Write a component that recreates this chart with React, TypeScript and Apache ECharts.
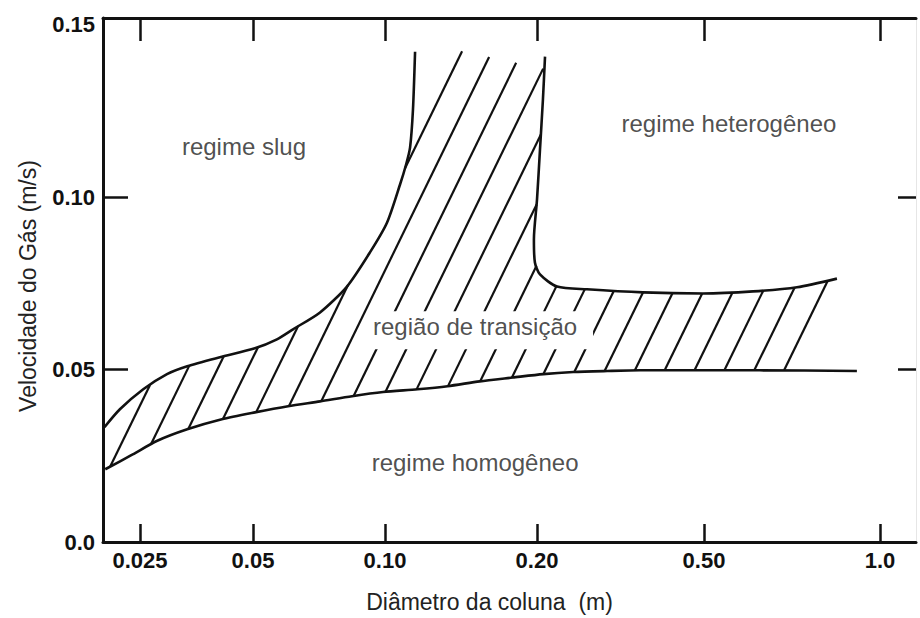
import { useEffect, useRef } from "react";
import * as echarts from "echarts";

// Diameter axis: the printed scale is stretched unevenly, so each tick diameter
// has its own place along the axis; diameters between ticks are placed by log interpolation.
const TICK_DIAMETERS = [0.025, 0.05, 0.1, 0.2, 0.5, 1.0];
const TICK_LABELS = ["0.025", "0.05", "0.10", "0.20", "0.50", "1.0"];
const TICK_POSITIONS = [0.37, 1.5, 2.82, 4.34, 6.01, 7.77];
const X_MAX = 8.13;

// Velocity axis (m/s): the frame sits slightly above the 0.15 tick
const VELOCITY_MAX = 0.152;
const VELOCITY_LABELS = [0, 0.05, 0.1, 0.15];
const VELOCITY_TICKS = [0.05, 0.1];

// Boundary homogeneous / transition  [diameter (m), gas velocity (m/s)]
const HOMOGENEOUS_BOUNDARY: [number, number][] = [
  [0.0202, 0.0211], [0.0239, 0.0254], [0.0277, 0.0293], [0.0334, 0.0327],
  [0.0413, 0.0356], [0.0505, 0.0376], [0.0601, 0.0394], [0.0711, 0.0408],
  [0.0841, 0.0423], [0.099, 0.0435], [0.116, 0.0443], [0.133, 0.0452],
  [0.154, 0.0466], [0.179, 0.0477], [0.207, 0.0487], [0.244, 0.0493],
  [0.294, 0.0496], [0.352, 0.0498], [0.489, 0.0498], [0.623, 0.0498],
  [0.913, 0.0496],
];

// Boundary slug / transition
const SLUG_BOUNDARY: [number, number][] = [
  [0.0201, 0.0333], [0.0221, 0.0385], [0.0255, 0.0443], [0.0295, 0.0487],
  [0.0334, 0.051], [0.0408, 0.0536], [0.0505, 0.0562], [0.0567, 0.0588],
  [0.0617, 0.0617], [0.0711, 0.0666], [0.0819, 0.0741], [0.0924, 0.084],
  [0.1009, 0.0926], [0.1071, 0.1037], [0.1101, 0.1095], [0.1121, 0.1144],
  [0.1136, 0.1254], [0.1147, 0.1422],
];

// Boundary heterogeneous / transition
const HETEROGENEOUS_BOUNDARY: [number, number][] = [
  [0.209, 0.1408], [0.2066, 0.1283], [0.2033, 0.1138], [0.2, 0.0993],
  [0.1972, 0.0878], [0.1981, 0.0811], [0.2033, 0.0776], [0.2233, 0.0741],
  [0.263, 0.0733], [0.3578, 0.0724], [0.4972, 0.0721], [0.6064, 0.0727],
  [0.7211, 0.0739], [0.844, 0.0764],
];

// Open edges of the hatched transition band: the hatching leaves the slug line
// at this point and stops along a line just under the top frame
const HATCH_SLUG_EXIT = 15;
const HATCH_TOP: [number, number][] = [[0.1376, 0.1428], [0.209, 0.1372]];
const HATCH_RIGHT_FOOT: [number, number] = [0.7015, 0.0498];

// Region names, anchored at [diameter, velocity]
const REGION_LABELS: { name: string; at: [number, number] }[] = [
  { name: "regime slug", at: [0.0473, 0.1146] },
  { name: "regime heterogêneo", at: [0.5516, 0.1213] },
  { name: "região de transição", at: [0.1508, 0.0626] },
  { name: "regime homogêneo", at: [0.1508, 0.0232] },
];
// The transition name sits on a white card that interrupts the hatching
const CARD_LABEL = "região de transição";

const FONT = "'Liberation Sans', Arial, Helvetica, sans-serif";
const INK = "#111";
const TEXT = "#222";

const LOG_TICKS = TICK_DIAMETERS.map((d) => Math.log10(d));

function toAxis(d: number): number {
  const lg = Math.log10(d);
  let i = 0;
  while (i < LOG_TICKS.length - 2 && lg > LOG_TICKS[i + 1]) i++;
  const t = (lg - LOG_TICKS[i]) / (LOG_TICKS[i + 1] - LOG_TICKS[i]);
  return TICK_POSITIONS[i] + t * (TICK_POSITIONS[i + 1] - TICK_POSITIONS[i]);
}

const toPoints = (pts: [number, number][]) => pts.map(([d, v]) => [toAxis(d), v]);

// Outline of the hatched band, walked once around
const HATCH_POLYGON: [number, number][] = [
  ...SLUG_BOUNDARY.slice(0, HATCH_SLUG_EXIT + 1),
  ...HATCH_TOP,
  ...HETEROGENEOUS_BOUNDARY.slice(1),
  HATCH_RIGHT_FOOT,
  ...HOMOGENEOUS_BOUNDARY.filter(([d]) => d < HATCH_RIGHT_FOOT[0]).reverse(),
];

function tickLabel(v: number): string {
  let best = 0;
  TICK_POSITIONS.forEach((p, i) => {
    if (Math.abs(p - v) < Math.abs(TICK_POSITIONS[best] - v)) best = i;
  });
  return TICK_LABELS[best];
}

function renderHatch(_params: any, api: any) {
  const pts: number[][] = HATCH_POLYGON.map(([d, v]) => api.coord([toAxis(d), v]));
  const slope = 2.05; // lines rise to the right: y + slope * x = c
  const gap = 61.2;
  const phase = 7.5;
  const key = (p: number[]) => p[1] + slope * p[0];
  const cs = pts.map(key);
  const cMin = Math.min(...cs);
  const cMax = Math.max(...cs);
  // first stroke starts just right of where the lower boundary meets the axis
  const [d0, v0] = HOMOGENEOUS_BOUNDARY[0];
  const anchor = key(api.coord([toAxis(d0), v0])) + phase;
  const start = anchor - gap * Math.floor((anchor - cMin) / gap);
  const children: any[] = [];
  for (let c = start; c < cMax; c += gap) {
    const xs: number[] = [];
    for (let i = 0; i < pts.length; i++) {
      const a = pts[i];
      const b = pts[(i + 1) % pts.length];
      const fa = key(a) - c;
      const fb = key(b) - c;
      if (fa < 0 !== fb < 0) {
        const t = fa / (fa - fb);
        xs.push(a[0] + t * (b[0] - a[0]));
      }
    }
    xs.sort((p, q) => p - q);
    for (let j = 0; j + 1 < xs.length; j += 2) {
      children.push({
        type: "line",
        shape: { x1: xs[j], y1: c - slope * xs[j], x2: xs[j + 1], y2: c - slope * xs[j + 1] },
        style: { stroke: INK, lineWidth: 2.2 },
      });
    }
  }
  return { type: "group", children };
}

function renderCard(_params: any, api: any) {
  const label = REGION_LABELS.find((r) => r.name === CARD_LABEL)!;
  const [cx, cy] = api.coord([toAxis(label.at[0]), label.at[1]]);
  return {
    type: "rect",
    shape: { x: cx - 107, y: cy - 15, width: 225, height: 38 },
    style: { fill: "#fff" },
  };
}

const boundaryLine = (data: [number, number][]) => ({
  type: "line" as const,
  data: toPoints(data),
  showSymbol: false,
  smooth: 0.25,
  silent: true,
  z: 3,
  lineStyle: { color: INK, width: 2.6 },
});

const labelText = { fontFamily: FONT, fontSize: 24, color: TEXT };

export default function App() {
  const ref = useRef<HTMLDivElement>(null);

  useEffect(() => {
    if (!ref.current) return;
    const chart = echarts.init(ref.current, undefined, { renderer: "svg" });

    const frame = { show: true, onZero: false, lineStyle: { color: INK, width: 3 } };
    const tickFont = { fontFamily: FONT, fontWeight: "bold", fontSize: 22, color: INK };

    chart.setOption({
      animation: false,
      backgroundColor: "#fff",
      grid: { left: 103, right: 4, top: 18, bottom: 75 },
      xAxis: [
        {
          type: "value",
          position: "bottom",
          min: 0,
          max: X_MAX,
          axisLine: frame,
          splitLine: { show: false },
          axisTick: {
            show: true,
            inside: true,
            length: 18,
            customValues: TICK_POSITIONS,
            lineStyle: { color: INK, width: 2.5 },
          },
          axisLabel: {
            customValues: TICK_POSITIONS,
            formatter: (v: number) => tickLabel(v),
            ...tickFont,
            margin: 7,
          },
          name: "Diâmetro da coluna  (m)",
          nameLocation: "middle",
          nameGap: 48,
          nameTextStyle: { ...labelText, fontSize: 23, padding: [0, 40, 0, 0] },
        },
        {
          type: "value",
          position: "top",
          min: 0,
          max: X_MAX,
          axisLine: frame,
          splitLine: { show: false },
          axisTick: {
            show: true,
            inside: true,
            length: 23,
            customValues: TICK_POSITIONS,
            lineStyle: { color: INK, width: 2.5 },
          },
          axisLabel: { show: false },
        },
      ],
      yAxis: [
        {
          type: "value",
          position: "left",
          min: 0,
          max: VELOCITY_MAX,
          axisLine: frame,
          splitLine: { show: false },
          axisTick: {
            show: true,
            inside: true,
            length: 25,
            customValues: VELOCITY_TICKS,
            lineStyle: { color: INK, width: 2.5 },
          },
          axisLabel: {
            customValues: VELOCITY_LABELS,
            formatter: (v: number) => (v === 0 ? "0.0" : v.toFixed(2)),
            ...tickFont,
            margin: 8,
          },
          name: "Velocidade do Gás (m/s)",
          nameLocation: "middle",
          nameGap: 64,
          nameTextStyle: { ...labelText, fontSize: 23, padding: [0, 12, 0, 0] },
        },
        {
          type: "value",
          position: "right",
          min: 0,
          max: VELOCITY_MAX,
          axisLine: { show: true, onZero: false, lineStyle: { color: "#e6e6e6", width: 1 } },
          splitLine: { show: false },
          axisTick: {
            show: true,
            inside: true,
            length: 18,
            customValues: VELOCITY_TICKS,
            lineStyle: { color: INK, width: 2.5 },
          },
          axisLabel: { show: false },
        },
      ],
      series: [
        {
          type: "custom",
          coordinateSystem: "cartesian2d",
          data: [0],
          silent: true,
          z: 2,
          renderItem: renderHatch,
        },
        {
          type: "custom",
          coordinateSystem: "cartesian2d",
          data: [0],
          silent: true,
          z: 4,
          renderItem: renderCard,
        },
        boundaryLine(HOMOGENEOUS_BOUNDARY),
        boundaryLine(SLUG_BOUNDARY),
        boundaryLine(HETEROGENEOUS_BOUNDARY),
        {
          type: "scatter",
          symbolSize: 0,
          silent: true,
          z: 6,
          data: REGION_LABELS.map((r) => ({ value: [toAxis(r.at[0]), r.at[1]], name: r.name })),
          label: {
            show: true,
            position: "inside",
            formatter: (p: any) => p.name,
            ...labelText,
          },
        },
      ],
    });

    return () => chart.dispose();
  }, []);

  return (
    <div
      ref={ref}
      style={{ position: "fixed", left: 0, top: 0, width: 920, height: 618, background: "#fff" }}
    />
  );
}
